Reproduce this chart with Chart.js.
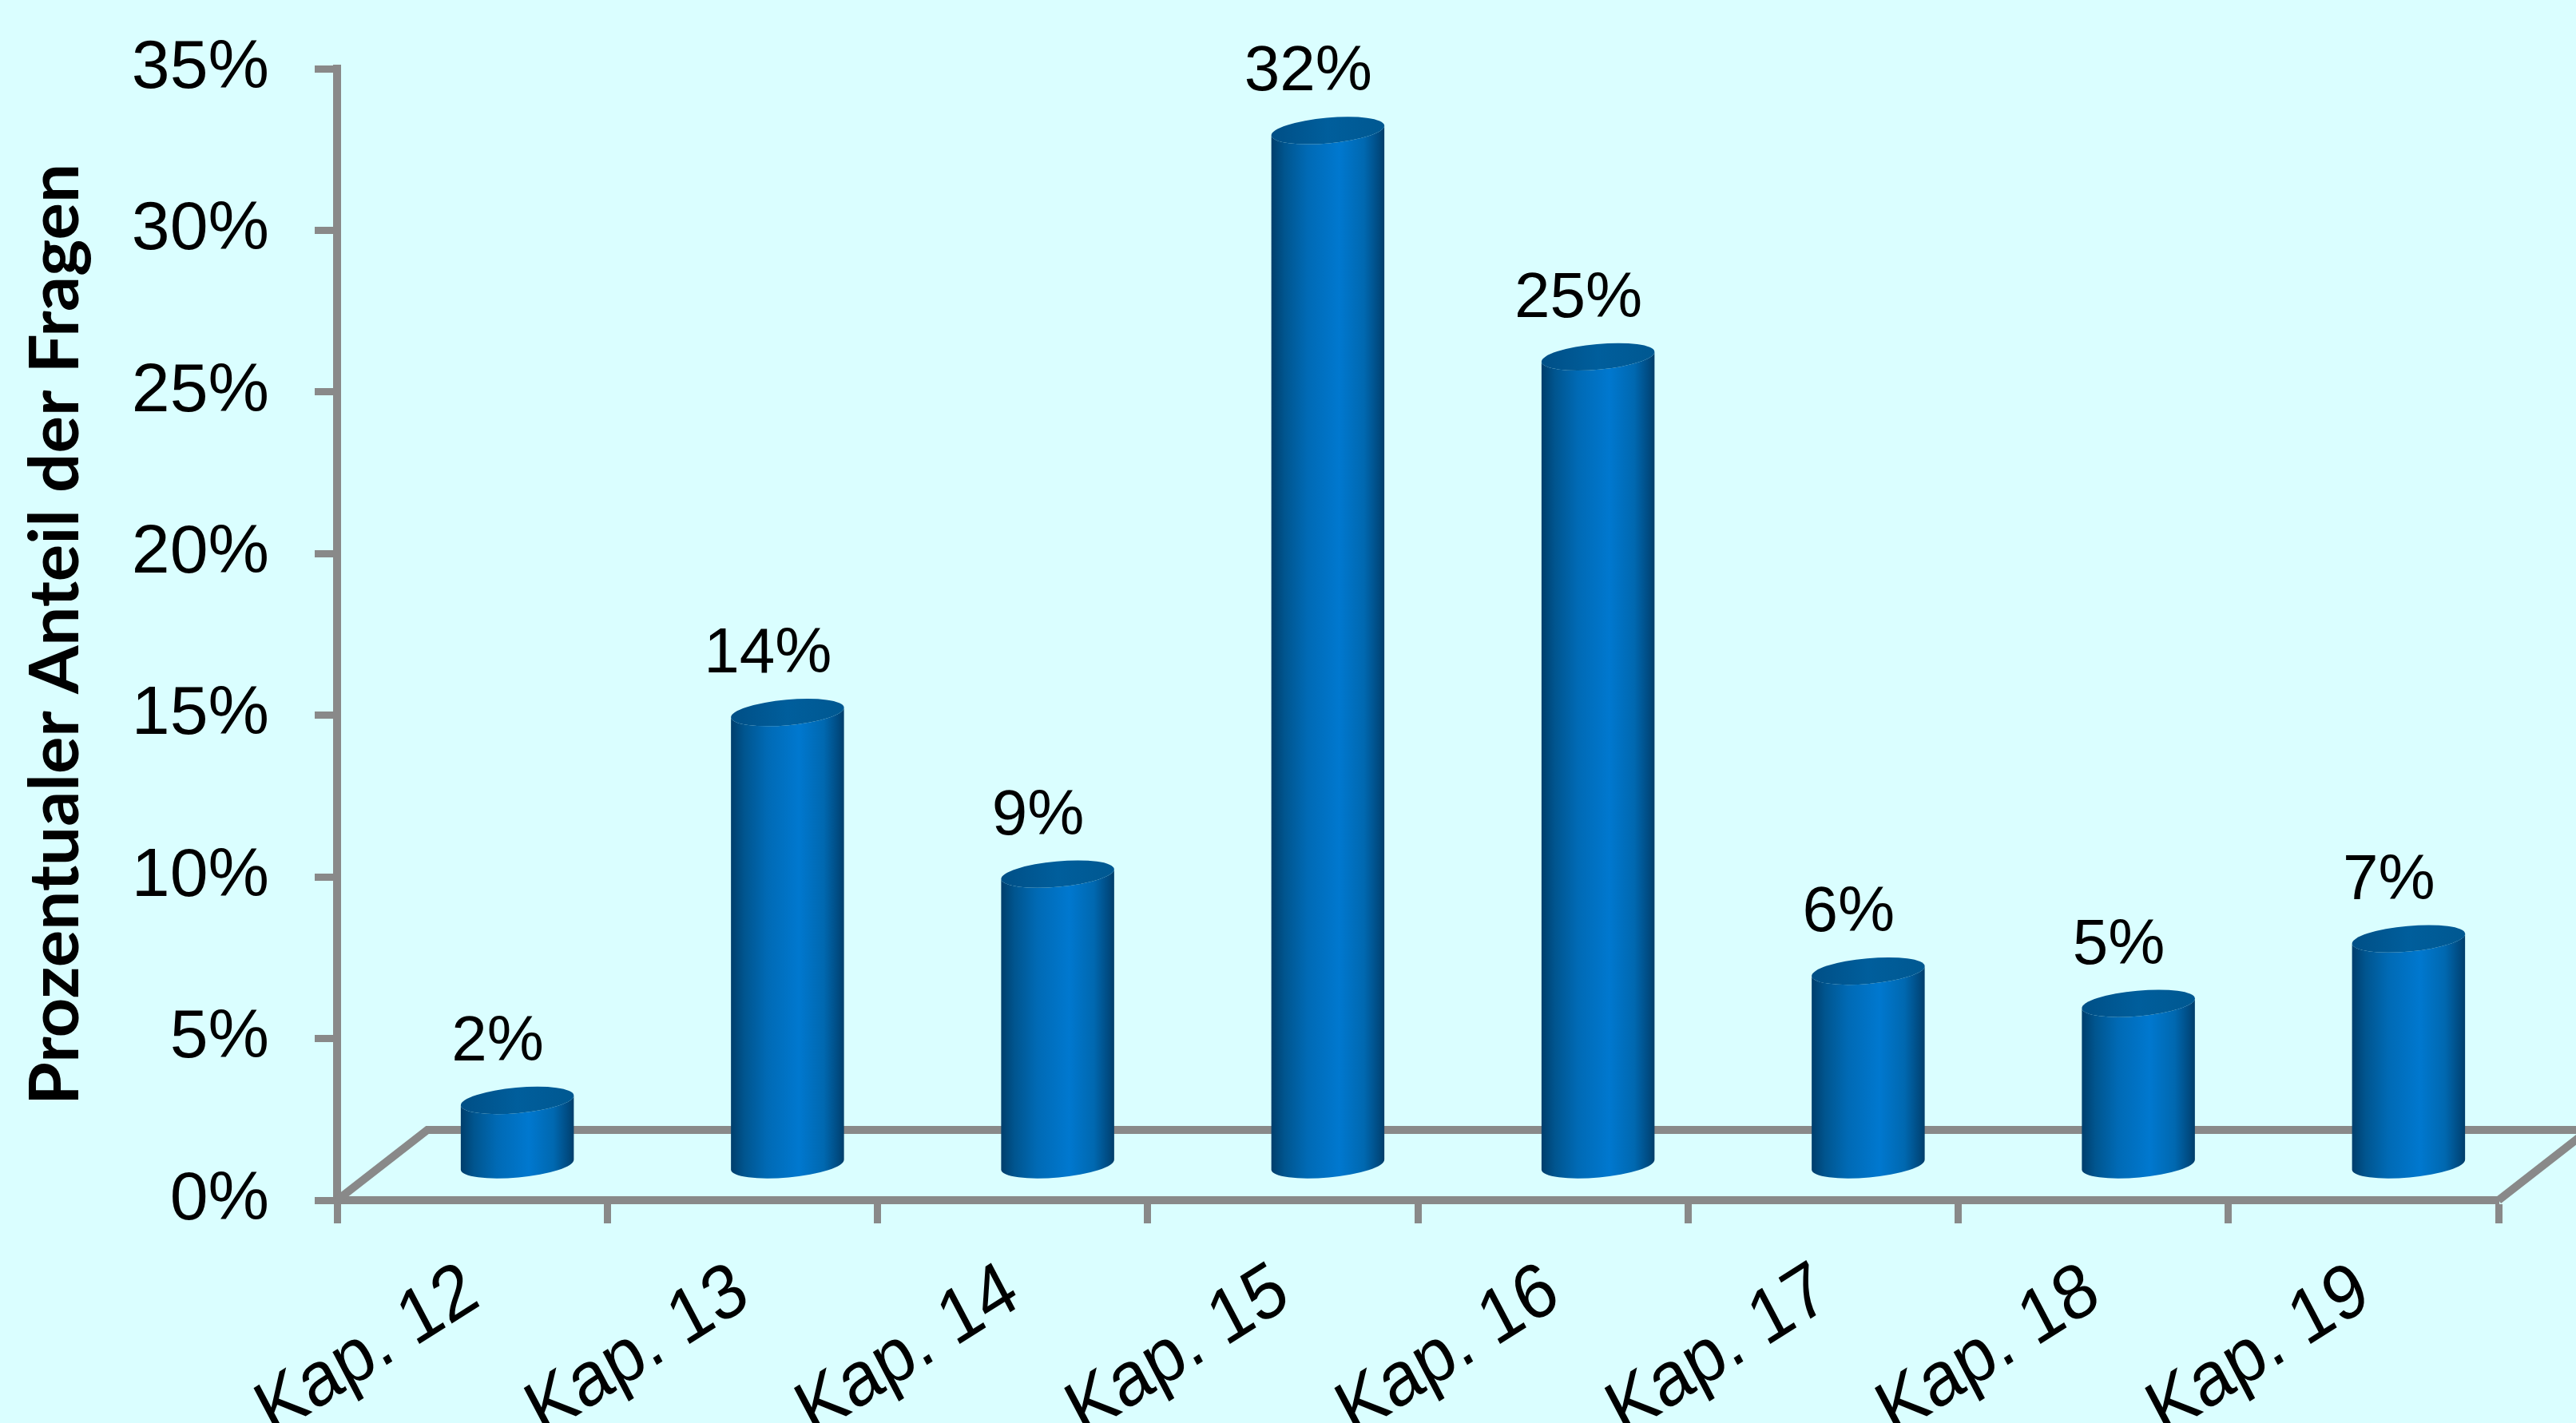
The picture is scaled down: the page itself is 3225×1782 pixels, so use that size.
<!DOCTYPE html>
<html>
<head>
<meta charset="utf-8">
<script src="https://cdn.jsdelivr.net/npm/chart.js@4.4.0/dist/chart.umd.min.js"></script>
<style>
  html, body { margin: 0; padding: 0; background: #DAFEFF; overflow: hidden; }
  canvas { display: block; }
</style>
</head>
<body>
<canvas id="myChart" width="3225" height="1782"></canvas>
<script>
// Kapitel und Anteil der Fragen (in %)
const kapitel = ['Kap. 12', 'Kap. 13', 'Kap. 14', 'Kap. 15', 'Kap. 16', 'Kap. 17', 'Kap. 18', 'Kap. 19'];
const anteil = [2, 14, 9, 32, 25, 6, 5, 7];
const yMax = 35;
const yStep = 5;
const achsenTitel = 'Prozentualer Anteil der Fragen';

const grau = '#898989';
const schrift = '"Liberation Sans", Arial, sans-serif';
// Tiefe des "3D"-Bodens
const TIEFE_X = 113;
const TIEFE_Y = 88;

// Hintergrund
const hintergrund = {
    id: 'hintergrund',
    beforeDraw(chart) {
        const c = chart.ctx;
        c.save();
        c.fillStyle = '#DAFEFF';
        c.fillRect(0, 0, chart.width, chart.height);
        c.restore();
    }
};

// Boden: hintere Kante + Seitenkanten
const boden = {
    id: 'boden',
    beforeDatasetsDraw(chart) {
        const c = chart.ctx;
        const a = chart.chartArea;
        c.save();
        c.strokeStyle = grau;
        c.lineWidth = 10;
        c.lineJoin = 'miter';
        c.beginPath();
        c.moveTo(a.left, a.bottom);
        c.lineTo(a.left + TIEFE_X, a.bottom - TIEFE_Y);
        c.lineTo(a.right + TIEFE_X, a.bottom - TIEFE_Y);
        c.lineTo(a.right, a.bottom);
        c.stroke();
        c.restore();
    }
};

// Zylinder statt flacher Balken + Werte darüber
const zylinder = {
    id: 'zylinder',
    afterDatasetsDraw(chart) {
        const c = chart.ctx;
        const meta = chart.getDatasetMeta(0);
        const rot = -0.09;
        const b = 16;
        c.save();
        meta.data.forEach(function(el, i) {
            const cx = el.x + TIEFE_X / 2;
            const rx = el.width / 2;
            const topY = el.y - TIEFE_Y / 2;
            const botY = el.base - TIEFE_Y / 2;

            // Mantel
            const g = c.createLinearGradient(cx - rx, 0, cx + rx, 0);
            g.addColorStop(0, '#003D6B');
            g.addColorStop(0.12, '#00558F');
            g.addColorStop(0.32, '#006AB5');
            g.addColorStop(0.6, '#0078CF');
            g.addColorStop(0.82, '#0068B0');
            g.addColorStop(0.95, '#004A80');
            g.addColorStop(1, '#003D69');
            c.beginPath();
            c.ellipse(cx, botY, rx, b, rot, 0, Math.PI, false);
            c.ellipse(cx, topY, rx, b, rot, Math.PI, 0, true);
            c.closePath();
            c.fillStyle = g;
            c.fill();

            // Deckel
            const gd = c.createLinearGradient(cx - rx, 0, cx + rx, 0);
            gd.addColorStop(0, '#004F86');
            gd.addColorStop(0.5, '#005E9C');
            gd.addColorStop(1, '#005891');
            c.beginPath();
            c.ellipse(cx, topY, rx, b, rot, 0, Math.PI * 2);
            c.fillStyle = gd;
            c.fill();

            // Wert
            c.fillStyle = '#000';
            c.font = '80px ' + schrift;
            c.textAlign = 'center';
            c.textBaseline = 'alphabetic';
            c.fillText(anteil[i] + '%', el.x + 32, topY - 50);
        });
        c.restore();
    }
};

// Kategorien schräg und leicht gestreckt unter die Achse schreiben
const kategorien = {
    id: 'kategorien',
    afterDraw(chart) {
        const c = chart.ctx;
        const xs = chart.scales.x;
        const winkel = 30 * Math.PI / 180;
        c.save();
        c.fillStyle = '#000';
        c.font = '88px ' + schrift;
        c.textAlign = 'right';
        c.textBaseline = 'alphabetic';
        chart.data.labels.forEach(function(lbl, i) {
            c.save();
            c.translate(xs.getPixelForTick(i) + 13, xs.top + 130);
            c.scale(1, 1.1);
            c.rotate(-winkel);
            c.fillText(lbl, 0, 0);
            c.restore();
        });
        c.restore();
    }
};

var ctx = document.getElementById('myChart').getContext('2d');

var data = {
    labels: kapitel,
    datasets: [{
        data: anteil,
        backgroundColor: 'rgba(0,0,0,0)',
        borderWidth: 0,
        barPercentage: 0.42,
        categoryPercentage: 1.0
    }]
};

var options = {
    responsive: false,
    animation: false,
    devicePixelRatio: 1,
    layout: {
        padding: { top: 86, right: 97, bottom: 0, left: 0 }
    },
    plugins: {
        legend: { display: false },
        tooltip: { enabled: false }
    },
    scales: {
        x: {
            afterFit: function(scale) { scale.height = 279; },
            grid: {
                drawOnChartArea: false,
                drawTicks: true,
                tickLength: 29,
                tickWidth: 9,
                tickColor: grau,
                offset: true
            },
            border: { display: true, color: grau, width: 10 },
            ticks: { display: false, autoSkip: false }
        },
        y: {
            min: 0,
            max: yMax,
            afterFit: function(scale) {
                scale.width = 422;
                // kein Zusatzabstand oben/unten durch die Beschriftung
                scale.paddingTop = 0;
                scale.paddingBottom = 0;
            },
            grid: {
                drawOnChartArea: false,
                drawTicks: true,
                tickLength: 28,
                tickWidth: 9,
                tickColor: grau
            },
            border: { display: true, color: grau, width: 10 },
            ticks: {
                stepSize: yStep,
                padding: 57,
                color: '#000',
                font: { family: schrift, size: 86 },
                callback: function(v) { return v + '%'; }
            },
            title: {
                display: true,
                text: achsenTitel,
                color: '#000',
                padding: { top: 18, bottom: 0 },
                font: { family: 'Lato, "Open Sans", sans-serif', size: 87, weight: 'bold', lineHeight: 1.2 }
            }
        }
    }
};

var myChart = new Chart(ctx, {
    type: 'bar',
    data: data,
    options: options,
    plugins: [hintergrund, boden, zylinder, kategorien]
});
</script>
</body>
</html>
